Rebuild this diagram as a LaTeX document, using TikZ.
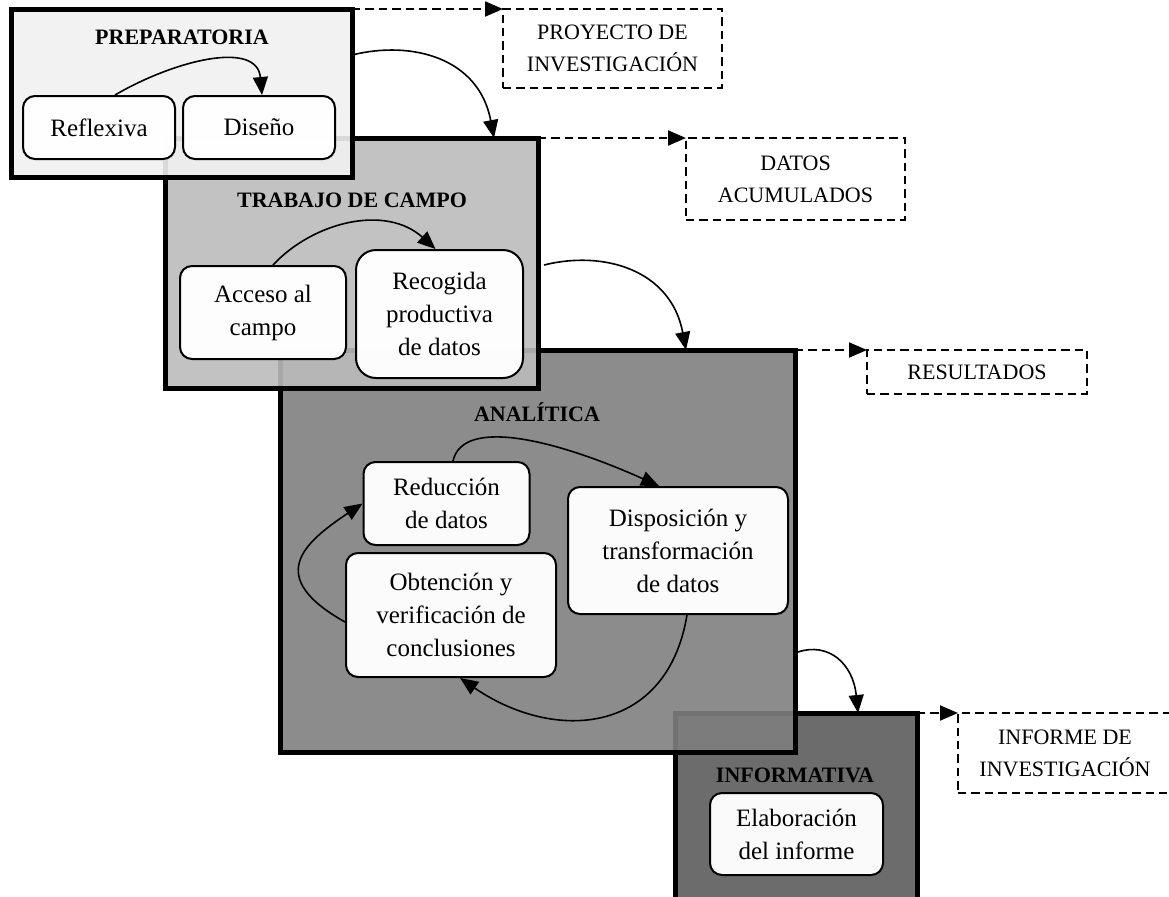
\documentclass[tikz,border=0pt]{standalone}
\usepackage{fontspec}
\setmainfont{Liberation Serif}
\usepackage{xcolor}
\usepackage{tikz}
\usetikzlibrary{arrows.meta}
\definecolor{prepgray}{HTML}{F1F1F1}
\definecolor{campogray}{HTML}{BBBBBB}
\definecolor{analgray}{HTML}{7F7F7F}
\definecolor{infogray}{HTML}{5C5C5C}

\begin{document}
\begin{tikzpicture}[x=0.5pt,y=-0.5pt,>={Triangle[length=9pt,width=7.5pt]},
    phasebox/.style={draw,line width=2.5pt,fill opacity=0.9,inner sep=0pt,outer sep=0pt},
    innerbox/.style={draw,line width=1pt,rounded corners=6pt,fill=white,fill opacity=0.97,
      text opacity=1,align=center,inner sep=0pt,font=\fontsize{12.5}{16.5}\selectfont},
    phasetitle/.style={font=\fontsize{11}{13}\selectfont\bfseries},
    resultbox/.style={draw,line width=1pt,dash pattern=on 4.2pt off 2.5pt,align=center,
      inner sep=0pt,outer sep=0pt,font=\fontsize{11}{16}\selectfont},
    flow/.style={->,line width=0.8pt},
    resultflow/.style={->,line width=1pt,dash pattern=on 4.2pt off 2.5pt}]
    \useasboundingbox (0,0) rectangle (1169,896);

    % Informativa (lowest layer).
    \node[phasebox,fill=infogray,minimum width=121pt,minimum height=123.5pt] (info) at (796,836.5) {};
    \node[phasetitle] (infotitle) at (795,775) {INFORMATIVA};
    \node[innerbox,minimum width=86.5pt,minimum height=41pt] (elab) at (796.5,834)
      {Elaboración\\del informe};

    % Analítica and its cycle.
    \node[phasebox,fill=analgray,minimum width=257.5pt,minimum height=201pt] (anal) at (537.5,551) {};
    \node[phasetitle] (analtitle) at (537,412) {ANALÍTICA};
    \node[innerbox,minimum width=83pt,minimum height=41.5pt] (reduc) at (446.5,503.5)
      {Reducción\\de datos};
    \node[innerbox,minimum width=110pt,minimum height=63.5pt] (dispo) at (678,550.5)
      {Disposición y\\transformación\\de datos};
    \node[innerbox,minimum width=105pt,minimum height=62pt] (obten) at (451,615)
      {Obtención y\\verificación de\\conclusiones};
    \draw[flow] ([xshift=3.25pt]reduc.north) .. controls +(10,-45) and +(-100,-45)
      .. ([xshift=-9.5pt]dispo.north);
    \draw[flow] ([xshift=4.5pt]dispo.south) .. controls +(-20,120) and +(95,65)
      .. ([xshift=4.5pt]obten.south);
    \draw[flow] ([yshift=-3.5pt]obten.west) .. controls +(-80,-45) and +(-60,40)
      .. (reduc.west);

    % Trabajo de campo.
    \node[phasebox,fill=campogray,minimum width=186.5pt,minimum height=125pt] (campo) at (351.5,263) {};
    \node[phasetitle] (campotitle) at (352,200) {TRABAJO DE CAMPO};
    \node[innerbox,minimum width=83pt,minimum height=46.5pt] (acceso) at (263,312.5)
      {Acceso al\\campo};
    \node[innerbox,minimum width=83.5pt,minimum height=64pt,rounded corners=10pt] (recog) at (439.5,314)
      {Recogida\\productiva\\de datos};
    \draw[flow] ([xshift=5pt]acceso.north) .. controls +(40,-43) and +(-50,-45)
      .. ([xshift=-2pt]recog.north);

    % Preparatoria (top layer).
    \node[phasebox,fill=prepgray,minimum width=170.5pt,minimum height=84pt] (prep) at (181.5,93) {};
    \node[phasetitle] (preptitle) at (182,37) {PREPARATORIA};
    \node[innerbox,minimum width=76pt,minimum height=31.5pt] (reflex) at (99,127.5) {Reflexiva};
    \node[innerbox,minimum width=76pt,minimum height=31.5pt] (diseno) at (259,127.5) {Diseño};
    \draw[flow] ([xshift=8pt]reflex.north) .. controls +(60,-35) and +(-5,-55)
      .. ([xshift=1.5pt]diseno.north);

    % Products of each phase.
    \node[resultbox,minimum width=109.5pt,minimum height=39.5pt] (proyecto) at (612.5,48.5)
      {PROYECTO DE\\INVESTIGACIÓN};
    \node[resultbox,minimum width=109.5pt,minimum height=41pt] (datos) at (795.5,179)
      {DATOS\\ACUMULADOS};
    \node[resultbox,minimum width=110pt,minimum height=22pt] (result) at (977,372) {RESULTADOS};
    \node[resultbox,minimum width=107pt,minimum height=40pt] (informe) at (1065,753)
      {INFORME DE\\INVESTIGACIÓN};

    % Phase to phase.
    \draw[flow] ([yshift=-23pt]prep.north east) .. controls +(60,-15) and +(-15,-80)
      .. ([xshift=-22pt]campo.north east);
    \draw[flow] ([xshift=3pt,yshift=-63.5pt]campo.north east) .. controls +(60,-15) and +(-15,-80)
      .. ([xshift=-54.5pt]anal.north east);
    \draw[flow] ([xshift=1.5pt,yshift=-151pt]anal.north east) .. controls +(30,-10) and +(-5,-50)
      .. ([xshift=-29.5pt]info.north east);

    % Phase to product.
    \draw[resultflow] (prep.north east) -- (prep.north east -| proyecto.west);
    \draw[resultflow] (campo.north east) -- (campo.north east -| datos.west);
    \draw[resultflow] (anal.north east) -- (anal.north east -| result.west);
    \draw[resultflow] (info.north east) -- (info.north east -| informe.west);
  \end{tikzpicture}
\end{document}
